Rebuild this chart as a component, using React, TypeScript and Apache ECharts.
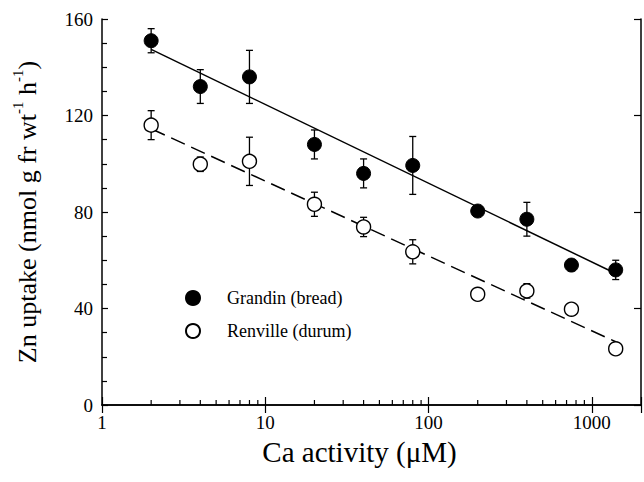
import React, { useEffect, useRef } from 'react';
import * as echarts from 'echarts';

const caActivity = [2, 4, 8, 20, 40, 80, 200, 400, 750, 1400];
const grandinUptake = [151, 132, 136, 108, 96, 99.3, 80.4, 77, 58, 56];
const grandinError = [5, 7, 11, 6, 6, 12, 0, 7, 0, 4];
const renvilleUptake = [116, 99.8, 101, 83.2, 73.8, 63.5, 45.9, 47.3, 39.7, 23.3];
const renvilleError = [6, 3, 10, 5, 4, 5, 0, 3, 0, 0];
const fitX = [2, 1400];
const grandinFit = [147.4, 54.5];
const renvilleFit = [114.5, 26.2];
const xMinorTicks = [2, 3, 4, 5, 6, 7, 8, 9, 20, 30, 40, 50, 60, 70, 80, 90, 200, 300, 400, 500, 600, 700, 800, 900];
const grandinName = 'Grandin (bread)';
const renvilleName = 'Renville (durum)';

const FONT = "'Liberation Serif', 'Times New Roman', serif";

function errorBars(values: number[], errs: number[]) {
  return caActivity
    .map((x, i) => [x, values[i] - errs[i], values[i] + errs[i]])
    .filter((_, i) => errs[i] > 0);
}

const errorRender = (params: any, api: any) => {
  const x = api.value(0);
  const lo = api.value(1);
  const hi = api.value(2);
  const t = api.coord([x, hi]);
  const b = api.coord([x, lo]);
  const w = 3.5;
  const st = { stroke: '#000', lineWidth: 1.3 };
  return {
    type: 'group',
    children: [
      { type: 'line', shape: { x1: t[0], y1: t[1], x2: b[0], y2: b[1] }, style: st },
      { type: 'line', shape: { x1: t[0] - w, y1: t[1], x2: t[0] + w, y2: t[1] }, style: st },
      { type: 'line', shape: { x1: b[0] - w, y1: b[1], x2: b[0] + w, y2: b[1] }, style: st },
    ],
  };
};

const minorTickRender = (params: any, api: any) => {
  const p = api.coord([api.value(0), 0]);
  return {
    type: 'line',
    shape: { x1: p[0], y1: p[1], x2: p[0], y2: p[1] - 5 },
    style: { stroke: '#000', lineWidth: 1.2 },
  };
};

export default function App() {
  const ref = useRef<HTMLDivElement>(null);
  useEffect(() => {
    if (!ref.current) return;
    const chart = echarts.init(ref.current, undefined, { renderer: 'svg' });
    const axisLineStyle = { color: '#000', width: 1.5 };
    chart.setOption({
      animation: false,
      backgroundColor: '#fff',
      grid: { left: 102, top: 19, right: 1, bottom: 77 },
      legend: {
        orient: 'vertical',
        left: 180,
        top: 284,
        itemWidth: 14,
        itemHeight: 14,
        itemGap: 15,
        textStyle: { fontFamily: FONT, fontSize: 18, color: '#000', padding: [0, 0, 0, 22] },
        data: [
          { name: grandinName, icon: 'circle' },
          { name: renvilleName, icon: 'circle' },
        ],
      },
      xAxis: [
        {
          type: 'log',
          logBase: 10,
          min: 1,
          max: 2000,
          name: 'Ca activity (μM)',
          nameLocation: 'middle',
          nameGap: 32,
          nameTextStyle: { fontFamily: FONT, fontSize: 29, color: '#000', padding: [0, 24, 0, 0] },
          axisLine: { lineStyle: axisLineStyle },
          axisTick: { inside: true, length: 8, lineStyle: { color: '#000', width: 1.2 } },
          axisLabel: {
            fontFamily: FONT,
            fontSize: 19,
            color: '#000',
            margin: 8,
            formatter: (v: number) => {
              const l = Math.log10(v);
              return Math.abs(l - Math.round(l)) < 1e-6 ? String(Math.round(v)) : '';
            },
          },
          splitLine: { show: false },
        },
        {
          type: 'log',
          logBase: 10,
          min: 1,
          max: 2000,
          position: 'top',
          axisLine: { lineStyle: axisLineStyle },
          axisTick: { inside: true, length: 8, lineStyle: { color: '#000', width: 1.2 } },
          axisLabel: { show: false },
          splitLine: { show: false },
        },
      ],
      yAxis: [
        {
          type: 'value',
          min: 0,
          max: 160,
          interval: 40,
          name: 'Zn uptake (nmol g fr wt{sup|-1} h{sup|-1})',
          nameLocation: 'middle',
          nameRotate: 90,
          nameGap: 58,
          nameTextStyle: {
            fontFamily: FONT,
            fontSize: 26,
            color: '#000',
            lineHeight: 34,
            rich: {
              sup: { fontFamily: FONT, fontSize: 15, color: '#000', verticalAlign: 'top', lineHeight: 15 },
            },
          },
          axisLine: { lineStyle: axisLineStyle },
          axisTick: { inside: true, length: 6, lineStyle: { color: '#000', width: 1.2 } },
          minorTick: { show: true, splitNumber: 4, length: 5, lineStyle: { color: '#000', width: 1.2 } },
          axisLabel: { fontFamily: FONT, fontSize: 19, color: '#000', margin: 9 },
          splitLine: { show: false },
        },
        {
          type: 'value',
          min: 0,
          max: 160,
          interval: 40,
          position: 'right',
          axisLine: { lineStyle: axisLineStyle },
          axisTick: { inside: true, length: 7, lineStyle: { color: '#000', width: 1.2 } },
          axisLabel: { show: false },
          splitLine: { show: false },
        },
      ],
      series: [
        {
          type: 'custom',
          name: 'minor ticks',
          renderItem: minorTickRender,
          data: xMinorTicks.map((v) => [v, 0]),
          encode: { x: 0, y: 1 },
          silent: true,
          z: 5,
        },
        {
          type: 'line',
          name: 'Grandin fit',
          data: fitX.map((x, i) => [x, grandinFit[i]]),
          symbol: 'none',
          lineStyle: { color: '#000', width: 1.5 },
          z: 1,
        },
        {
          type: 'line',
          name: 'Renville fit',
          data: fitX.map((x, i) => [x, renvilleFit[i]]),
          symbol: 'none',
          lineStyle: { color: '#000', width: 1.5, type: [15, 7] },
          z: 1,
        },
        {
          type: 'custom',
          name: 'Grandin error',
          renderItem: errorRender,
          data: errorBars(grandinUptake, grandinError),
          encode: { x: 0, y: [1, 2] },
          z: 2,
        },
        {
          type: 'custom',
          name: 'Renville error',
          renderItem: errorRender,
          data: errorBars(renvilleUptake, renvilleError),
          encode: { x: 0, y: [1, 2] },
          z: 2,
        },
        {
          type: 'scatter',
          name: grandinName,
          data: caActivity.map((x, i) => [x, grandinUptake[i]]),
          symbol: 'circle',
          symbolSize: 14,
          itemStyle: { color: '#000', borderColor: '#000', borderWidth: 1, opacity: 1 },
          z: 3,
        },
        {
          type: 'scatter',
          name: renvilleName,
          data: caActivity.map((x, i) => [x, renvilleUptake[i]]),
          symbol: 'circle',
          symbolSize: 14,
          itemStyle: { color: '#fff', borderColor: '#000', borderWidth: 1.4, opacity: 1 },
          z: 3,
        },
      ],
    });
    return () => chart.dispose();
  }, []);
  return (
    <div
      ref={ref}
      style={{ position: 'fixed', left: 0, top: 0, width: 644, height: 482, background: '#fff' }}
    />
  );
}
